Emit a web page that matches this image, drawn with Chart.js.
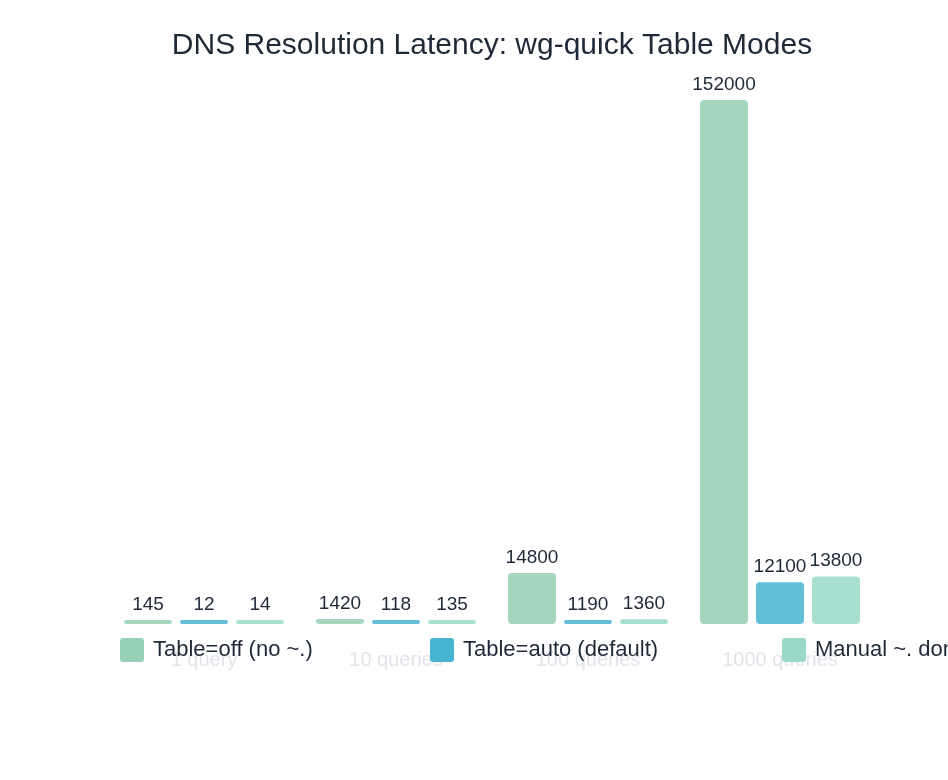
<!DOCTYPE html>
<html><head><meta charset="utf-8">
<script src="https://cdn.jsdelivr.net/npm/chart.js@4"></script>
<style>html,body{margin:0;padding:0;background:#fff}#w{width:948px;height:780px}</style>
</head><body><div id="w"><canvas id="c"></canvas></div>
<script>
const categories = ["1 query", "10 queries", "100 queries", "1000 queries"];
const seriesNames = ["Table=off (no ~.)", "Table=auto (default)", "Manual ~. domain routing"];
const tableOff = [145, 1420, 14800, 152000];
const tableAuto = [12, 118, 1190, 12100];
const manualDomain = [14, 135, 1360, 13800];
const legendColors = ["#96cfb4", "#45b5d1", "#98d9c8"];
const barColors = ["rgba(150,207,180,0.85)", "rgba(69,181,209,0.85)", "rgba(152,217,200,0.85)"];
const FONT = "'Liberation Sans', Arial, sans-serif";

const labelsPlugin = {
  id: 'vals',
  afterDatasetsDraw(chart) {
    const ctx = chart.ctx;
    ctx.save();
    ctx.font = "19px " + FONT;
    ctx.fillStyle = "#1f2937";
    ctx.textAlign = "center";
    ctx.textBaseline = "bottom";
    chart.data.datasets.forEach((ds, i) => {
      chart.getDatasetMeta(i).data.forEach((bar, j) => {
        ctx.fillText(String(ds.data[j]), bar.x, bar.y - 6);
      });
    });
    ctx.restore();
  }
};
const legendPlugin = {
  id: 'leg',
  afterDraw(chart) {
    const ctx = chart.ctx;
    const xs = [120, 430, 782];
    ctx.save();
    ctx.font = "22px " + FONT;
    ctx.textBaseline = "middle";
    ctx.textAlign = "left";
    seriesNames.forEach((n, i) => {
      ctx.fillStyle = legendColors[i];
      ctx.beginPath();
      ctx.roundRect(xs[i], 638, 24, 24, 3);
      ctx.fill();
      ctx.fillStyle = "#1f2937";
      ctx.fillText(n, xs[i] + 33, 650);
    });
    ctx.restore();
  }
};

new Chart(document.getElementById('c'), {
  type: 'bar',
  data: {
    labels: categories,
    datasets: [
      { label: seriesNames[0], data: tableOff, backgroundColor: barColors[0] },
      { label: seriesNames[1], data: tableAuto, backgroundColor: barColors[1] },
      { label: seriesNames[2], data: manualDomain, backgroundColor: barColors[2] }
    ]
  },
  options: {
    responsive: true, maintainAspectRatio: false, animation: false,
    layout: { padding: { top: 20, left: 108, right: 72, bottom: 92 } },
    datasets: { bar: { categoryPercentage: 0.875, barPercentage: 0.857, borderRadius: 4, minBarLength: 4, borderSkipped: false } },
    plugins: {
      legend: { display: false },
      tooltip: { enabled: false },
      title: { display: true, text: "DNS Resolution Latency: wg-quick Table Modes", color: "#1f2937",
        font: { family: FONT, size: 30, weight: 'normal' }, padding: { top: 8, bottom: 36 } }
    },
    scales: {
      x: { grid: { display: false }, border: { display: false },
        ticks: { color: "#e2e4ea", padding: 16, font: { family: FONT, size: 20 } } },
      y: { display: false, min: 0, max: 152000 }
    }
  },
  plugins: [labelsPlugin, legendPlugin]
});
</script></body></html>
